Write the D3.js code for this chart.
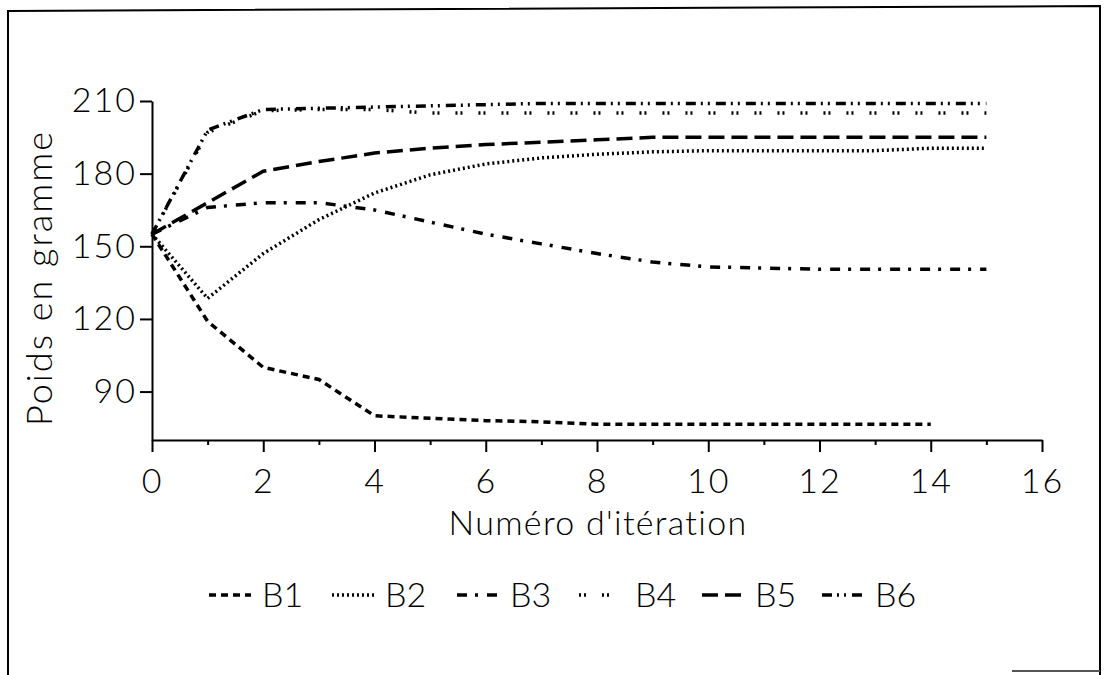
<!DOCTYPE html>
<html>
<head>
<meta charset="utf-8">
<script src="https://cdn.jsdelivr.net/npm/d3@7"></script>
<style>
  body { margin: 0; background: #fff; }
  text { font-family: "Lato", "DejaVu Sans", sans-serif; font-weight: 300; fill: #000; }
</style>
</head>
<body>
<div class="canva"></div>
<script>
// data
const iterations = [0, 1, 2, 3, 4, 5, 6, 7, 8, 9, 10, 11, 12, 13, 14, 15];
const b1 = [155, 119, 100, 95, 80, 79, 78, 77.5, 76.5, 76.5, 76.5, 76.5, 76.5, 76.5, 76.5];
const b2 = [155, 128.5, 147, 161, 172, 179.5, 184, 186.5, 188, 189, 189.5, 189.5, 189.5, 189.5, 190.5, 190.5];
const b3 = [155, 166, 168, 168, 165, 160, 155, 151, 147, 143.5, 141.5, 141, 140.5, 140.5, 140.5, 140.5];
const b4 = [155, 197, 206, 206.5, 206.5, 205, 205, 205, 205, 205, 205, 205, 205, 205, 205, 205];
const b5 = [155, 168, 181, 185, 188.5, 190.5, 192, 193, 194, 195, 195, 195, 195, 195, 195, 195];
const b6 = [155, 198, 206.5, 207, 207.5, 208, 208.5, 209, 209, 209, 209, 209, 209, 209, 209, 209];
const seriesNames = ["B1", "B2", "B3", "B4", "B5", "B6"];
const xTicks = [0, 2, 4, 6, 8, 10, 12, 14, 16];
const xMinorTicks = [1, 3, 5, 7, 9, 11, 13, 15];
const yTicks = [90, 120, 150, 180, 210];

const dashes = ["7,5", "2,3", "10,8,3,9", "2,3,2,16", "16,7", "10,5,2,5,2,6"];

const svg = d3.select(".canva").append("svg")
    .attr("width", 1107)
    .attr("height", 675);

// scan frame
svg.append("path")
    .attr("d", "M8,675 L8,11 L1100,6 L1100,675")
    .attr("fill", "none")
    .attr("stroke", "#000")
    .attr("stroke-width", 2);
svg.append("line")
    .attr("x1", 1012).attr("x2", 1100).attr("y1", 671).attr("y2", 671)
    .attr("stroke", "#555").attr("stroke-width", 2);

const x = d3.scaleLinear().domain([0, 16]).range([152, 1042]);
const y = d3.scaleLinear().domain([70, 210]).range([440, 101]);

// axes
svg.append("g")
    .attr("transform", `translate(0, ${y(70)})`)
    .call(d3.axisBottom(x).tickValues(xTicks).tickSize(12).tickSizeOuter(0).tickPadding(17));
svg.append("g")
    .attr("transform", `translate(0, ${y(70)})`)
    .call(d3.axisBottom(x).tickValues(xMinorTicks).tickSize(5).tickFormat(""))
    .select(".domain").remove();
svg.append("g")
    .attr("transform", `translate(${x(0)}, 0)`)
    .call(d3.axisLeft(y).tickValues(yTicks).tickSize(12).tickSizeOuter(0).tickPadding(3));

svg.selectAll(".domain, .tick line").attr("stroke", "#000").attr("stroke-width", 2);
svg.selectAll(".tick text")
    .style("font-family", "Lato, 'DejaVu Sans', sans-serif")
    .style("font-weight", 300)
    .attr("font-size", 34)
    .attr("letter-spacing", 2);

// axis titles
svg.append("text")
    .attr("x", 598).attr("y", 535)
    .attr("text-anchor", "middle")
    .attr("font-size", 34)
    .attr("letter-spacing", 1.3)
    .text("Numéro d'itération");
svg.append("text")
    .attr("transform", "translate(52, 278) rotate(-90)")
    .attr("text-anchor", "middle")
    .attr("font-size", 36)
    .attr("letter-spacing", 2)
    .text("Poids en gramme");

// lines
const allSeries = [b1, b2, b3, b4, b5, b6];
const line = d3.line()
    .x((d, i) => x(iterations[i]))
    .y(d => y(d));

svg.selectAll(".serie")
    .data(allSeries)
    .enter()
    .append("path")
    .attr("class", "serie")
    .attr("d", line)
    .attr("fill", "none")
    .attr("stroke", "#000")
    .attr("stroke-width", 3.5)
    .attr("stroke-dasharray", (d, i) => dashes[i]);

// legend
const legendX = [209, 332, 457, 579, 702, 822];
const legend = svg.selectAll(".leg")
    .data(seriesNames)
    .enter()
    .append("g")
    .attr("class", "leg")
    .attr("transform", (d, i) => `translate(${legendX[i]}, 595)`);
legend.append("line")
    .attr("x1", 0).attr("x2", 42)
    .attr("stroke", "#000")
    .attr("stroke-width", 3.5)
    .attr("stroke-dasharray", (d, i) => dashes[i]);
legend.append("text")
    .attr("x", (d, i) => i == 3 ? 56 : 53)
    .attr("y", 12)
    .attr("font-size", 34)
    .text(d => d);
</script>
</body>
</html>
